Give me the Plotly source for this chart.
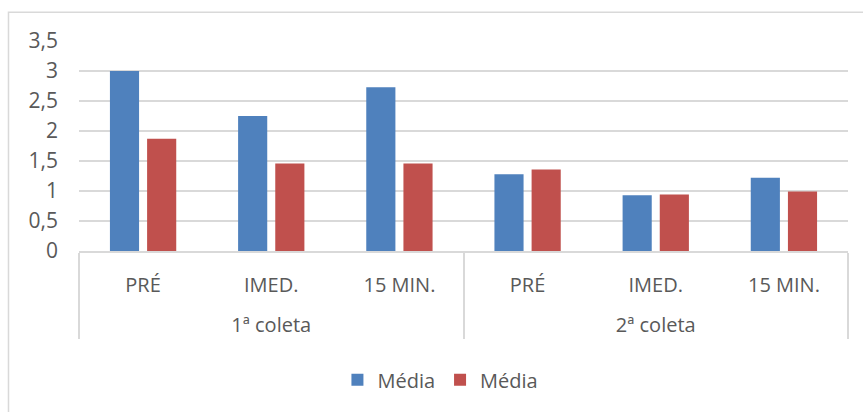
import plotly.graph_objects as go

groups = ["1ª coleta", "1ª coleta", "1ª coleta", "2ª coleta", "2ª coleta", "2ª coleta"]
moments = ["PRÉ", "IMED.", "15 MIN.", "PRÉ", "IMED.", "15 MIN."]
media_a = [3.0, 2.25, 2.73, 1.28, 0.93, 1.22]
media_b = [1.87, 1.46, 1.46, 1.36, 0.94, 0.99]
series_names = ["Média", "Média"]
colors = ["#4F81BD", "#C0504D"]

FONT = "Open Sans"
TXT = "#595959"
GRID = "#D9D9D9"
FS = 20

# leading line break pushes the outer (group) level further below the inner level
outer = ["<br>" + g for g in groups]

fig = go.Figure()
for name, vals, col in zip(series_names, [media_a, media_b], colors):
    fig.add_trace(go.Bar(
        x=[outer, moments], y=vals, name=name,
        marker=dict(color=col, line=dict(width=0)),
    ))

fig.update_layout(
    width=863, height=412,
    margin=dict(l=79, r=15, t=41, b=159),
    paper_bgcolor="white", plot_bgcolor="white",
    barmode="group", bargap=0.42, bargroupgap=0.216,
    font=dict(family=FONT, size=FS, color=TXT),
    separators=", ",
    showlegend=True,
    legend=dict(orientation="h", x=0.47, xanchor="center", y=-0.613, yanchor="middle",
                font=dict(family=FONT, size=FS, color=TXT), traceorder="normal",
                itemwidth=30),
    shapes=[dict(type="rect", xref="paper", yref="paper",
                 x0=-0.0917, x1=1.03, y0=-0.78, y1=1.137,
                 line=dict(color=GRID, width=1.5), fillcolor="rgba(0,0,0,0)", layer="below")],
)
fig.update_yaxes(
    range=[0, 3.5], dtick=0.5,
    showgrid=True, gridcolor=GRID, gridwidth=1.5,
    zeroline=False, showline=False, ticks="", ticklabelstandoff=20,
    tickfont=dict(family=FONT, size=21, color=TXT),
)
fig.update_xaxes(
    type="multicategory", showline=True, linecolor=GRID, linewidth=1.5,
    showdividers=True, dividercolor=GRID, dividerwidth=1.5,
    tickfont=dict(family=FONT, size=FS, color=TXT), ticks="", ticklabelstandoff=15,
)

fig.write_html("out.html")
